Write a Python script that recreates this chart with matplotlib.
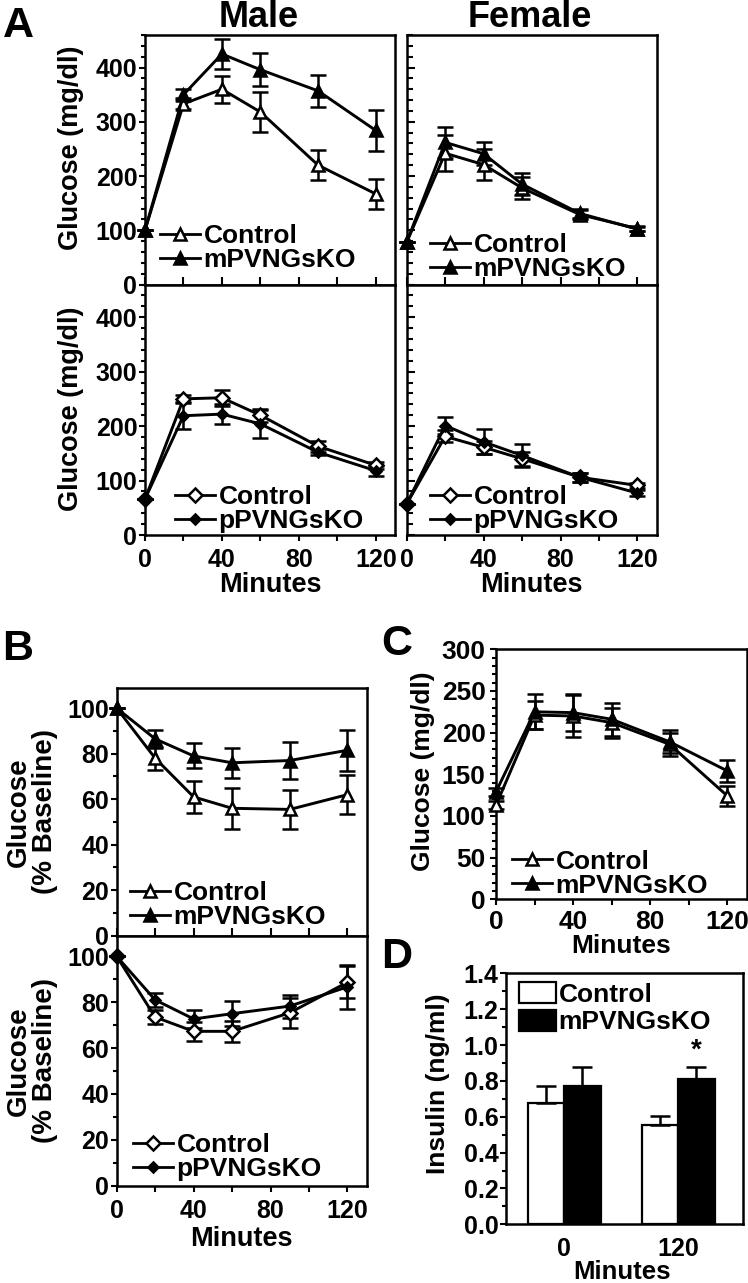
import matplotlib
matplotlib.use('Agg')
import matplotlib.pyplot as plt
from matplotlib.lines import Line2D
from matplotlib.patches import Patch
from matplotlib.ticker import MultipleLocator, FormatStrFormatter

plt.rcParams['font.family'] = ['Liberation Sans', 'DejaVu Sans']
plt.rcParams['font.weight'] = 'bold'
plt.rcParams['axes.labelweight'] = 'bold'

# ---------------- data ----------------
minutes = [0, 20, 40, 60, 90, 120]

# Panel A, top row (mPVNGsKO)
male_ctrl_m = [100, 333, 360, 318, 220, 167]
male_ctrl_m_err = [0, 10, 25, 36, 28, 28]
male_ko_m = [100, 350, 425, 396, 357, 284]
male_ko_m_err = [0, 10, 28, 30, 30, 37]
fem_ctrl_m = [78, 242, 221, 178, 129, 103]
fem_ctrl_m_err = [0, 33, 28, 20, 8, 4]
fem_ko_m = [78, 262, 241, 185, 131, 102]
fem_ko_m_err = [0, 28, 21, 20, 8, 4]

# Panel A, bottom row (pPVNGsKO)
male_ctrl_p = [66, 250, 252, 220, 163, 128]
male_ctrl_p_err = [0, 8, 15, 12, 10, 6]
male_ko_p = [66, 219, 222, 204, 152, 118]
male_ko_p_err = [0, 25, 18, 26, 6, 9]
fem_ctrl_p = [57, 181, 161, 140, 106, 91]
fem_ctrl_p_err = [0, 11, 12, 13, 8, 5]
fem_ko_p = [57, 201, 171, 146, 106, 77]
fem_ko_p_err = [0, 15, 23, 21, 8, 5]

# Panel B (% baseline)
b_ctrl_m = [100, 78, 61, 56, 55.5, 62]
b_ctrl_m_err = [0, 5, 7, 9, 8.5, 8.5]
b_ko_m = [100, 86.5, 79, 76, 77, 81.5]
b_ko_m_err = [0, 4, 5.5, 6.5, 8, 9]
b_ctrl_p = [100, 73.5, 67.3, 67.3, 75.4, 88.7]
b_ctrl_p_err = [0, 3.2, 4, 4.5, 6.5, 7]
b_ko_p = [100, 81, 72.7, 75, 78.3, 86.7]
b_ko_p_err = [0, 3, 4, 5.5, 5, 9.5]

# Panel C
c_ctrl = [113, 221, 220, 212, 186, 124]
c_ctrl_err = [5, 17, 25, 18, 14, 12]
c_ko = [129, 225, 224, 216, 189, 154]
c_ko_err = [5, 21, 22, 20, 14, 13]

# Panel D
d_groups = ['0', '120']
d_ctrl = [0.675, 0.554]
d_ctrl_err = [0.098, 0.052]
d_ko = [0.773, 0.809]
d_ko_err = [0.103, 0.070]

xtick_vals = [0, 20, 40, 60, 80, 100, 120]
xtick_labels = ['0', '', '40', '', '80', '', '120']

# ---------------- figure ----------------
W, H = 748, 1283
fig = plt.figure(figsize=(W / 100, H / 100), dpi=100)


def add_ax(l, t, r, b):
    return fig.add_axes([l / W, 1 - b / H, (r - l) / W, (b - t) / H])


def series(ax, y, e, marker, filled):
    if marker == '^':
        ms = 9
    else:
        ms = 5.5 if filled else 7
    ax.errorbar(minutes, y, yerr=e, color='k', lw=2.1, elinewidth=1.8,
                capsize=5.5, capthick=1.8, marker=marker, ms=ms,
                mfc='k' if filled else 'white', mec='k', mew=1.8,
                clip_on=False, zorder=3)


def frame(ax):
    for s in ax.spines.values():
        s.set_linewidth(1.8)


def legend(ax, labels, marker, x, y, fs):
    ms_open = 8 if marker == '^' else 7
    ms_fill = 8 if marker == '^' else 5.5
    h = [Line2D([], [], color='k', lw=2, marker=marker, ms=ms_open,
                mfc='white', mec='k', mew=1.8),
         Line2D([], [], color='k', lw=2, marker=marker, ms=ms_fill,
                mfc='k', mec='k', mew=1.8)]
    ax.legend(h, labels, loc='lower left', bbox_to_anchor=(x, y),
              frameon=False, fontsize=fs, handlelength=1.5,
              handletextpad=0.15, labelspacing=0.0, borderpad=0,
              borderaxespad=0)


def time_axes(ax, ylim, ymaj, ymin, ylabels, ydir, xbottom, fs):
    frame(ax)
    ax.set_xlim(0, 130)
    ax.set_ylim(*ylim)
    ax.yaxis.set_major_locator(MultipleLocator(ymaj))
    ax.yaxis.set_minor_locator(MultipleLocator(ymin))
    ax.set_xticks(xtick_vals)
    if ydir == 'out':
        ax.tick_params(axis='y', which='major', direction='out', length=4.5,
                       width=1.5, pad=1, labelsize=fs, labelleft=ylabels)
        ax.tick_params(axis='y', which='minor', direction='out', length=3,
                       width=1.5)
    else:
        ax.tick_params(axis='y', which='major', direction='in', length=6,
                       width=1.5, labelleft=False)
        ax.tick_params(axis='y', which='minor', direction='in', length=4.5,
                       width=1.5)
    if xbottom:
        ax.set_xticklabels(xtick_labels)
        ax.tick_params(axis='x', direction='out', length=4.5, width=1.5,
                       pad=5, labelsize=fs)
    else:
        ax.tick_params(axis='x', direction='in', length=5.5, width=1.5,
                       labelbottom=False)


# ----- Panel A -----
ax1 = add_ax(145, 35, 395, 284.5)
ax2 = add_ax(406.7, 35, 656.7, 284.5)
ax3 = add_ax(145, 284.5, 395, 535)
ax4 = add_ax(406.7, 284.5, 656.7, 535)

series(ax1, male_ctrl_m, male_ctrl_m_err, '^', False)
series(ax1, male_ko_m, male_ko_m_err, '^', True)
series(ax2, fem_ctrl_m, fem_ctrl_m_err, '^', False)
series(ax2, fem_ko_m, fem_ko_m_err, '^', True)
series(ax3, male_ctrl_p, male_ctrl_p_err, 'D', False)
series(ax3, male_ko_p, male_ko_p_err, 'D', True)
series(ax4, fem_ctrl_p, fem_ctrl_p_err, 'D', False)
series(ax4, fem_ko_p, fem_ko_p_err, 'D', True)

time_axes(ax1, (0, 460), 100, 20, True, 'out', False, 18)
time_axes(ax2, (0, 460), 100, 20, False, 'in', False, 18)
time_axes(ax3, (0, 460), 100, 20, True, 'out', True, 18)
time_axes(ax4, (0, 460), 100, 20, False, 'in', True, 18)

for ax in (ax1, ax3):
    ax.set_ylabel('Glucose (mg/dl)', fontsize=19.5)
ax1.yaxis.set_label_coords(-0.245, 0.547)
ax3.yaxis.set_label_coords(-0.245, 0.503)
for ax in (ax3, ax4):
    ax.set_xlabel('Minutes', fontsize=19.5)
    ax.xaxis.set_label_coords(0.5, -0.147)

legend(ax1, ['Control', 'mPVNGsKO'], '^', 0.06, 0.05, 19)
legend(ax2, ['Control', 'mPVNGsKO'], '^', 0.093, 0.014, 19)
legend(ax3, ['Control', 'pPVNGsKO'], 'D', 0.12, 0.008, 19)
legend(ax4, ['Control', 'pPVNGsKO'], 'D', 0.093, 0.008, 19)

fig.text(259 / W, 1 - 27 / H, 'Male', ha='center', va='baseline',
         fontsize=26, weight='bold')
fig.text(530 / W, 1 - 27 / H, 'Female', ha='center', va='baseline',
         fontsize=26, weight='bold')

# ----- Panel B -----
bx1 = add_ax(116.7, 687.7, 366.7, 935.7)
bx2 = add_ax(116.7, 935.7, 366.7, 1185.7)
series(bx1, b_ctrl_m, b_ctrl_m_err, '^', False)
series(bx1, b_ko_m, b_ko_m_err, '^', True)
series(bx2, b_ctrl_p, b_ctrl_p_err, 'D', False)
series(bx2, b_ko_p, b_ko_p_err, 'D', True)
time_axes(bx1, (0, 109), 20, 10, True, 'out', False, 18)
time_axes(bx2, (0, 109), 20, 10, True, 'out', True, 18)
for ax in (bx1, bx2):
    ax.set_ylabel('Glucose\n(% Baseline)', fontsize=20, linespacing=1.0)
    ax.yaxis.set_label_coords(-0.235, 0.5)
bx2.set_xlabel('Minutes', fontsize=19.5)
bx2.xaxis.set_label_coords(0.497, -0.16)
legend(bx1, ['Control', 'mPVNGsKO'], '^', 0.053, 0.027, 19)
legend(bx2, ['Control', 'pPVNGsKO'], 'D', 0.065, 0.017, 19)

# ----- Panel C -----
cx = add_ax(496, 649.3, 746.7, 899.3)
series(cx, c_ctrl, c_ctrl_err, '^', False)
series(cx, c_ko, c_ko_err, '^', True)
time_axes(cx, (0, 300), 50, 10, True, 'out', True, 19)
cx.tick_params(axis='y', which='major', pad=3)
cx.tick_params(axis='x', pad=3)
cx.set_ylabel('Glucose (mg/dl)', fontsize=19)
cx.yaxis.set_label_coords(-0.243, 0.513)
cx.set_xlabel('Minutes', fontsize=19)
cx.xaxis.set_label_coords(0.5, -0.137)
legend(cx, ['Control', 'mPVNGsKO'], '^', 0.064, 0.007, 19)

# ----- Panel D -----
dx = add_ax(506, 973.3, 743, 1224.3)
frame(dx)
pos = list(range(len(d_groups)))
bw = 0.32
dx.bar([p - bw / 2 for p in pos], d_ctrl, bw, color='white', edgecolor='k',
       linewidth=1.6, yerr=[[0] * len(pos), d_ctrl_err],
       error_kw=dict(ecolor='k', elinewidth=1.8, capsize=7, capthick=1.8),
       label='Control', zorder=2)
dx.bar([p + bw / 2 for p in pos], d_ko, bw, color='black', edgecolor='k',
       linewidth=1.6, yerr=[[0] * len(pos), d_ko_err],
       error_kw=dict(ecolor='k', elinewidth=1.8, capsize=7, capthick=1.8),
       label='mPVNGsKO', zorder=2)
dx.text(pos[1] + bw / 2, d_ko[1] + d_ko_err[1] + 0.015, '*', ha='center',
        va='bottom', fontsize=20, weight='bold')
dx.set_xlim(-0.51, 1.57)
dx.set_ylim(0, 1.4)
dx.yaxis.set_major_locator(MultipleLocator(0.2))
dx.yaxis.set_minor_locator(MultipleLocator(0.1))
dx.yaxis.set_major_formatter(FormatStrFormatter('%.1f'))
dx.set_xticks(pos)
dx.set_xticklabels(d_groups)
dx.tick_params(axis='y', which='major', direction='out', length=4.5, width=1.5,
               pad=1, labelsize=18)
dx.tick_params(axis='y', which='minor', direction='out', length=3, width=1.5)
dx.tick_params(axis='x', length=0, pad=9, labelsize=18)
dx.set_ylabel('Insulin (ng/ml)', fontsize=19)
dx.yaxis.set_label_coords(-0.236, 0.561)
dx.set_xlabel('Minutes', fontsize=18.5)
dx.xaxis.set_label_coords(0.488, -0.143)
dx.legend([Patch(facecolor='white', edgecolor='k', linewidth=1.6),
           Patch(facecolor='black', edgecolor='k', linewidth=1.6)],
          ['Control', 'mPVNGsKO'], loc='upper left',
          bbox_to_anchor=(0.055, 0.965), frameon=False, fontsize=19,
          handlelength=1.4, handleheight=0.87, handletextpad=0.1,
          labelspacing=0.1, borderpad=0, borderaxespad=0)

# ----- panel letters -----
for letter, x, y in [('A', 18, 37), ('B', 18, 660), ('C', 397, 655),
                     ('D', 397, 968)]:
    fig.text(x / W, 1 - y / H, letter, ha='center', va='baseline',
             fontsize=31, weight='bold')

fig.savefig('out.png', dpi=100)
